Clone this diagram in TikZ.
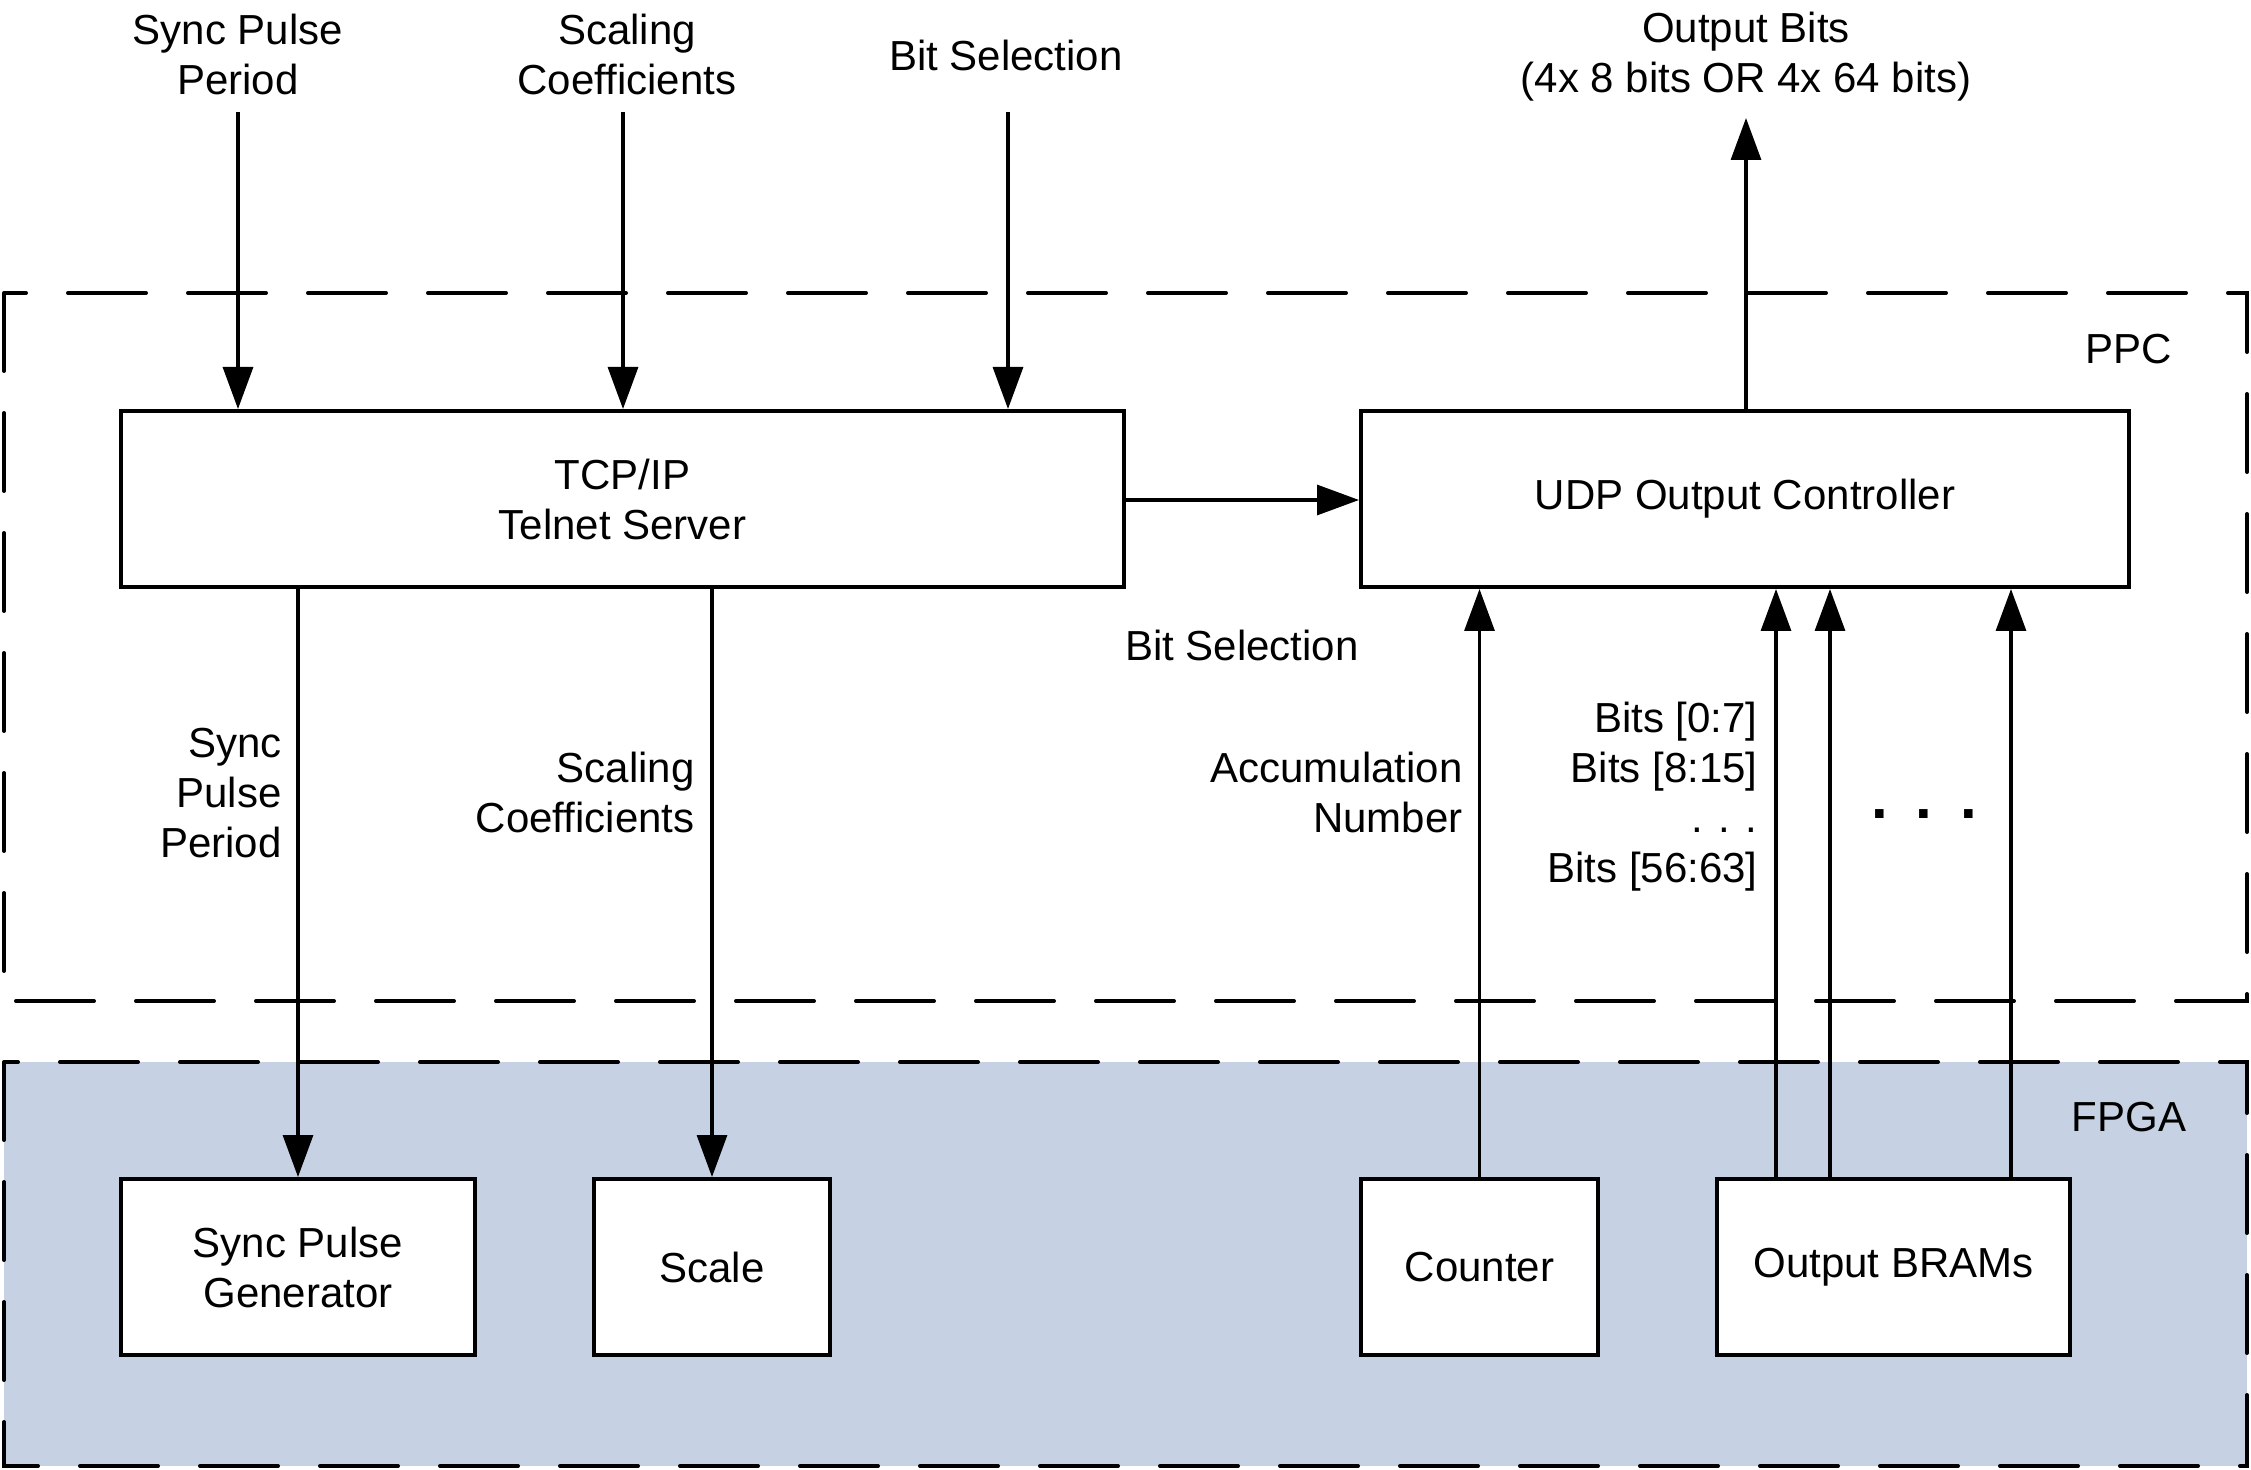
\documentclass[tikz,border=0pt]{standalone}
\usepackage{fontspec}
\setmainfont{Liberation Sans}
\usetikzlibrary{arrows.meta}
\definecolor{fpgafill}{RGB}{198,210,227}
\tikzset{
  blk/.style={draw=black, line width=2pt, fill=white, minimum height=88pt, align=center, inner sep=0pt},
  arr/.style={line width=1.6pt, -{Triangle[length=21pt,width=15pt]}},
  region/.style={line width=2pt, dash pattern=on 39pt off 21pt, line cap=round},
  lbl/.style={align=center, inner sep=0pt},
  rlbl/.style={align=right, inner sep=0pt, anchor=east}
}
\begin{document}
\begin{tikzpicture}[x=0.5pt, y=-0.5pt, font=\fontsize{21}{25}\selectfont]
\useasboundingbox (0,0) rectangle (2251,1470);
% regions
\fill[fpgafill] (4,1062) rectangle (2247,1466);
\draw[region] (4,293) rectangle (2247,1001);
\draw[region] (4,1062) rectangle (2247,1466);
\node[lbl] (ppc) at (2129,349) {PPC};
\node[lbl] (fpga) at (2129,1117) {FPGA};
% blocks
\node[blk, minimum width=501.5pt] (tcp) at (622.5,499) {TCP/IP\\Telnet Server};
\node[blk, minimum width=384pt] (udp) at (1745,499) {UDP Output Controller};
\node[blk, minimum width=177pt] (spg) at (298,1267) {Sync Pulse\\Generator};
\node[blk, minimum width=118pt] (scale) at (712,1267) {Scale};
\node[blk, minimum width=118.5pt] (counter) at (1479.5,1267) {Counter};
\node[blk, minimum width=176.5pt] (bram) at (1893.5,1267) {Output BRAMs};
% top inputs
\node[lbl] (lsp) at (238,54) {Sync Pulse\\Period};
\node[lbl] (lsc) at (627,54) {Scaling\\Coefficients};
\node[lbl] (lbs) at (1006,55) {Bit Selection};
\node[lbl] (lob) at (1746,57) {Output Bits\\(4x 8 bits OR 4x 64 bits)};
\coordinate (i1) at (238,112);
\coordinate (i2) at (623,112);
\coordinate (i3) at (1008,112);
\coordinate (o1) at (1746,118);
\draw[arr] (i1) -- (i1 |- tcp.north);
\draw[arr] (i2) -- (i2 |- tcp.north);
\draw[arr] (i3) -- (i3 |- tcp.north);
\draw[arr] (o1 |- udp.north) -- (o1);
% tcp to udp
\draw[arr] (tcp.east |- 0,500) -- (udp.west |- 0,500);
\node[lbl] (lbs2) at (1242,645) {Bit Selection};
% down arrows
\draw[arr] (spg.north |- tcp.south) -- (spg.north);
\draw[arr] (scale.north |- tcp.south) -- (scale.north);
\node[rlbl] (lsp2) at (282,793) {Sync\\Pulse\\Period};
\node[rlbl] (lsc2) at (695,792) {Scaling\\Coefficients};
% up arrows
\draw[arr] (counter.north) -- (counter.north |- udp.south);
\coordinate (b1) at (1776,0);
\coordinate (b2) at (1830,0);
\coordinate (b3) at (2011,0);
\draw[arr] (b1 |- bram.north) -- (b1 |- udp.south);
\draw[arr] (b2 |- bram.north) -- (b2 |- udp.south);
\draw[arr] (b3 |- bram.north) -- (b3 |- udp.south);
\node[rlbl] (lacc) at (1463,792) {Accumulation\\Number};
\node[rlbl] (lbits) at (1758,797) {Bits [0:7]\\Bits [8:15]\\. . .\\Bits [56:63]};
\node[lbl] (dots) at (1924,814) {\fontsize{30}{30}\selectfont\bfseries .\hspace{14pt}.\hspace{14pt}.};
\end{tikzpicture}
\end{document}
